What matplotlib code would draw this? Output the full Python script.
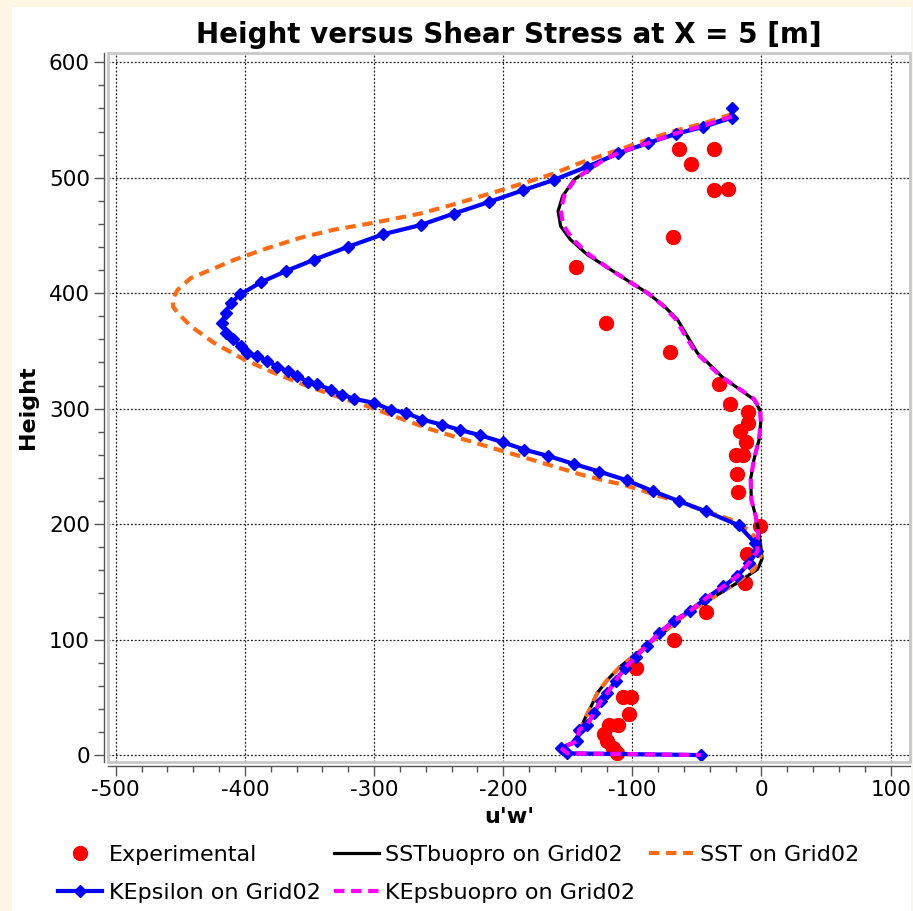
import matplotlib
matplotlib.use('Agg')
import matplotlib.pyplot as plt
from matplotlib.patches import Rectangle
from matplotlib.ticker import MultipleLocator

plt.rcParams['axes.unicode_minus'] = False

# Experimental points (u'w', height)
exp_uw = [-64, -36.6, -54.4, -36.6, -26.3, -68.4, -143.4, -120.5, -71, -33, -24.5, -10.6,
          -10.6, -16.3, -11.8, -20, -14.5, -19.3, -17.8, -0.8, -11.1, -12.6, -43.3, -68.1,
          -97, -107, -101, -102.5, -111, -118, -122, -120, -115, -112]
exp_h = [524.5, 524.5, 511.7, 489.2, 489.8, 448.8, 422.9, 374, 348.9, 321.5, 304.2, 296.7,
         288, 280.3, 270.8, 260.2, 260.2, 243.7, 228.2, 198.8, 174.3, 148.7, 123.9, 99.6,
         75.5, 50.4, 50.4, 35.4, 26, 26, 18, 12, 6, 2]

# SSTbuopro on Grid02
sstb_uw = [-23, -45, -66, -88, -111, -124.5, -145, -154, -157.5, -155.5, -148, -135, -119,
           -101, -88, -75.5, -65, -57.5, -49.5, -39, -30, -18.5, -6, -1.2, -0.6, -1.9, -5.8,
           -8.4, -7.8, -4.5, -1.9, -0.6, 0.5, -3, -11, -19, -31.5, -44.5, -57.5, -70, -83,
           -96, -109, -119, -127, -132, -137, -141, -145]
sstb_h = [553, 545, 538, 530, 521.5, 514, 498.5, 484, 471, 458, 446.5, 433.5, 422,
          409, 400, 389, 377, 363, 348, 337, 327, 318, 308, 299, 288, 273, 256,
          239, 221, 207, 192, 181, 170, 161, 155, 149, 140.5, 132, 123, 111.5, 100,
          88.5, 77, 65.5, 54, 42, 31, 20, 12]

# SST on Grid02
sst_uw = [-23, -45, -66, -88, -111, -140, -161, -185, -211, -238, -264, -300, -331, -357,
          -382.5, -408, -426, -442, -452, -456, -455.5, -452, -442, -424, -400.5, -377.5,
          -351.5, -326, -305, -284.5, -256, -217.5, -199.5, -178.5, -140, -124.5, -106.5,
          -62.5, -24, -11, -3, -0.6, -5.8, -16, -31.5, -44.5, -57.5, -70, -83, -96, -109,
          -119, -127, -132, -137, -141, -145]
sst_h = [555, 547, 541, 533, 524, 513, 503.5, 495, 486, 477, 469, 461, 455, 448,
         439, 429, 420.5, 413, 403, 394.5, 388, 383, 371.5, 357, 342.5, 331,
         319.5, 309.5, 302, 293.5, 282, 269, 263, 256, 243, 238.5, 234,
         218.5, 204, 195.5, 186.5, 172, 160.5, 152, 140.5, 132, 123, 111.5, 100, 88.5, 77,
         65.5, 54, 42, 31, 20, 12]

# KEpsilon on Grid02 (one marker per point)
ke_uw = [-23, -23, -45, -66, -88, -111, -135, -161, -185, -211, -238, -264, -293, -320.5,
         -346.5, -368.5, -387.5, -403.5, -411, -415, -417.5, -415, -409.5, -403, -398,
         -390.5, -382.5, -375, -367, -359.5, -351.5, -344, -333.5, -324.5, -315.5, -300,
         -287, -275.5, -262.5, -247, -233.5, -218, -200.5, -183.5, -165, -145, -125.5,
         -104.5, -84, -64, -43, -17.7, -5.3, -3.2, -10, -18.7, -29.6, -44, -55.5, -68,
         -79, -89, -97.5, -106, -113, -119.3, -124.5, -129.7, -134.8, -141.3, -142.6,
         -155.4, -150.3, -47]
ke_h = [560, 552, 544, 538, 530, 521, 509.5, 498, 489, 479, 469, 459, 451, 440,
        429, 419, 409.5, 399, 391.5, 383, 374.5, 365.5, 360, 354, 348.5,
        345.5, 341, 336.5, 332.5, 328, 323.5, 321, 316.5, 312, 308.5, 305,
        299, 296.5, 290.5, 286, 281.5, 277, 271, 264.5, 259, 252, 245.5,
        238, 228.5, 220, 211, 199, 184, 176.5, 166, 155, 146, 135, 124.7, 116,
        106, 94.5, 85, 75, 64.5, 54, 46.6, 36.5, 26.4, 22, 12,
        6.2, 1.5, 0]

# KEpsbuopro on Grid02
kepsb_uw = [-23, -45, -66, -88, -111, -124, -144, -152.5, -155.5, -153.5, -146.5, -134,
            -119, -101, -88, -76, -66, -59, -51, -40.5, -31, -19, -6, -1, -0.5, -2, -5.8,
            -8.4, -7.8, -4.5, -2.5, -3.2, -10, -18.7, -29.6, -44, -55.5, -68, -79, -89,
            -97.5, -106, -113, -119.3, -124.5, -129.7, -134.8, -141.3, -142.6, -155.4,
            -150.3, -47]
kepsb_h = [553, 545, 538.5, 530, 521.5, 514, 499, 485, 472, 459, 447, 434,
           422, 409, 400, 389, 377, 363, 349, 337.5, 327.5, 318.5, 308.5, 300, 288, 273, 256,
           239, 221, 207, 192, 176.5, 166, 155, 146, 135, 124.7, 116, 106, 94.5,
           85, 75, 64.5, 54, 46.6, 36.5, 26.4, 22, 12, 6.2,
           1.5, 0]

W, H = 913, 911
fig = plt.figure(figsize=(W / 100, H / 100), dpi=100)
fig.patch.set_facecolor('#fdf6e4')
fig.add_artist(Rectangle((12 / W, 0), (911 - 12) / W, (H - 7) / H, transform=fig.transFigure,
                         facecolor='white', edgecolor='none', zorder=-5))

ax = fig.add_axes([108 / W, (H - 762) / H, (910 - 108) / W, (762 - 53) / H])
ax.set_facecolor('white')

ax.plot(exp_uw, exp_h, 'o', color='#ff0000', markersize=10, label='Experimental', zorder=2)
ax.plot(sstb_uw, sstb_h, '-', color='black', linewidth=2.3, label='SSTbuopro on Grid02', zorder=3)
ax.plot(sst_uw, sst_h, '--', color='#ff6a13', linewidth=3, dashes=(2.5, 1.6),
        label='SST on Grid02', zorder=4)
ax.plot(ke_uw, ke_h, '-', color='#0000ff', linewidth=3, marker='D', markersize=6.5,
        label='KEpsilon on Grid02', zorder=5)
ax.plot(kepsb_uw, kepsb_h, '--', color='#ff00ff', linewidth=3, dashes=(2.5, 1.6),
        label='KEpsbuopro on Grid02', zorder=6)

ax.set_xlim(-506, 115)
ax.set_ylim(-6, 608)
ax.xaxis.set_major_locator(MultipleLocator(100))
ax.xaxis.set_minor_locator(MultipleLocator(20))
ax.yaxis.set_major_locator(MultipleLocator(100))
ax.yaxis.set_minor_locator(MultipleLocator(20))
ax.grid(True, which='major', color='#222222', linestyle=(0, (1.5, 1.5)), linewidth=0.9)
ax.set_axisbelow(True)

for side in ['top', 'right']:
    ax.spines[side].set_visible(False)
for side in ['left', 'bottom']:
    ax.spines[side].set_position(('outward', 3))
    ax.spines[side].set_color('#555555')
    ax.spines[side].set_linewidth(1.0)
ax.add_patch(Rectangle((0, 0), 1, 1, transform=ax.transAxes, fill=False,
                       edgecolor='#c8c8c8', linewidth=2, clip_on=False, zorder=10))

ax.tick_params(which='major', direction='out', length=7, width=1, color='#555555',
               labelsize=15.5, pad=3)
ax.tick_params(which='minor', direction='out', length=4.5, width=1, color='#555555')

ax.set_title('Height versus Shear Stress at X = 5 [m]', fontsize=20, fontweight='bold', pad=7)
ax.set_xlabel("u'w'", fontsize=16, fontweight='bold', labelpad=5)
ax.set_ylabel('Height', fontsize=16, fontweight='bold', labelpad=8)

handles, labels = ax.get_legend_handles_labels()
# order for column-major layout: col1 Experimental/KEpsilon, col2 SSTbuopro/KEpsbuopro, col3 SST
order = [0, 3, 1, 4, 2]
fig.legend([handles[i] for i in order], [labels[i] for i in order], ncol=3,
           loc='upper left', bbox_to_anchor=(58 / W, (H - 845) / H), frameon=False,
           fontsize=16, handlelength=2.0, handletextpad=0.3, columnspacing=0.6,
           labelspacing=0.8, borderpad=0, borderaxespad=0)

fig.savefig('out.png', dpi=100, facecolor=fig.get_facecolor())
